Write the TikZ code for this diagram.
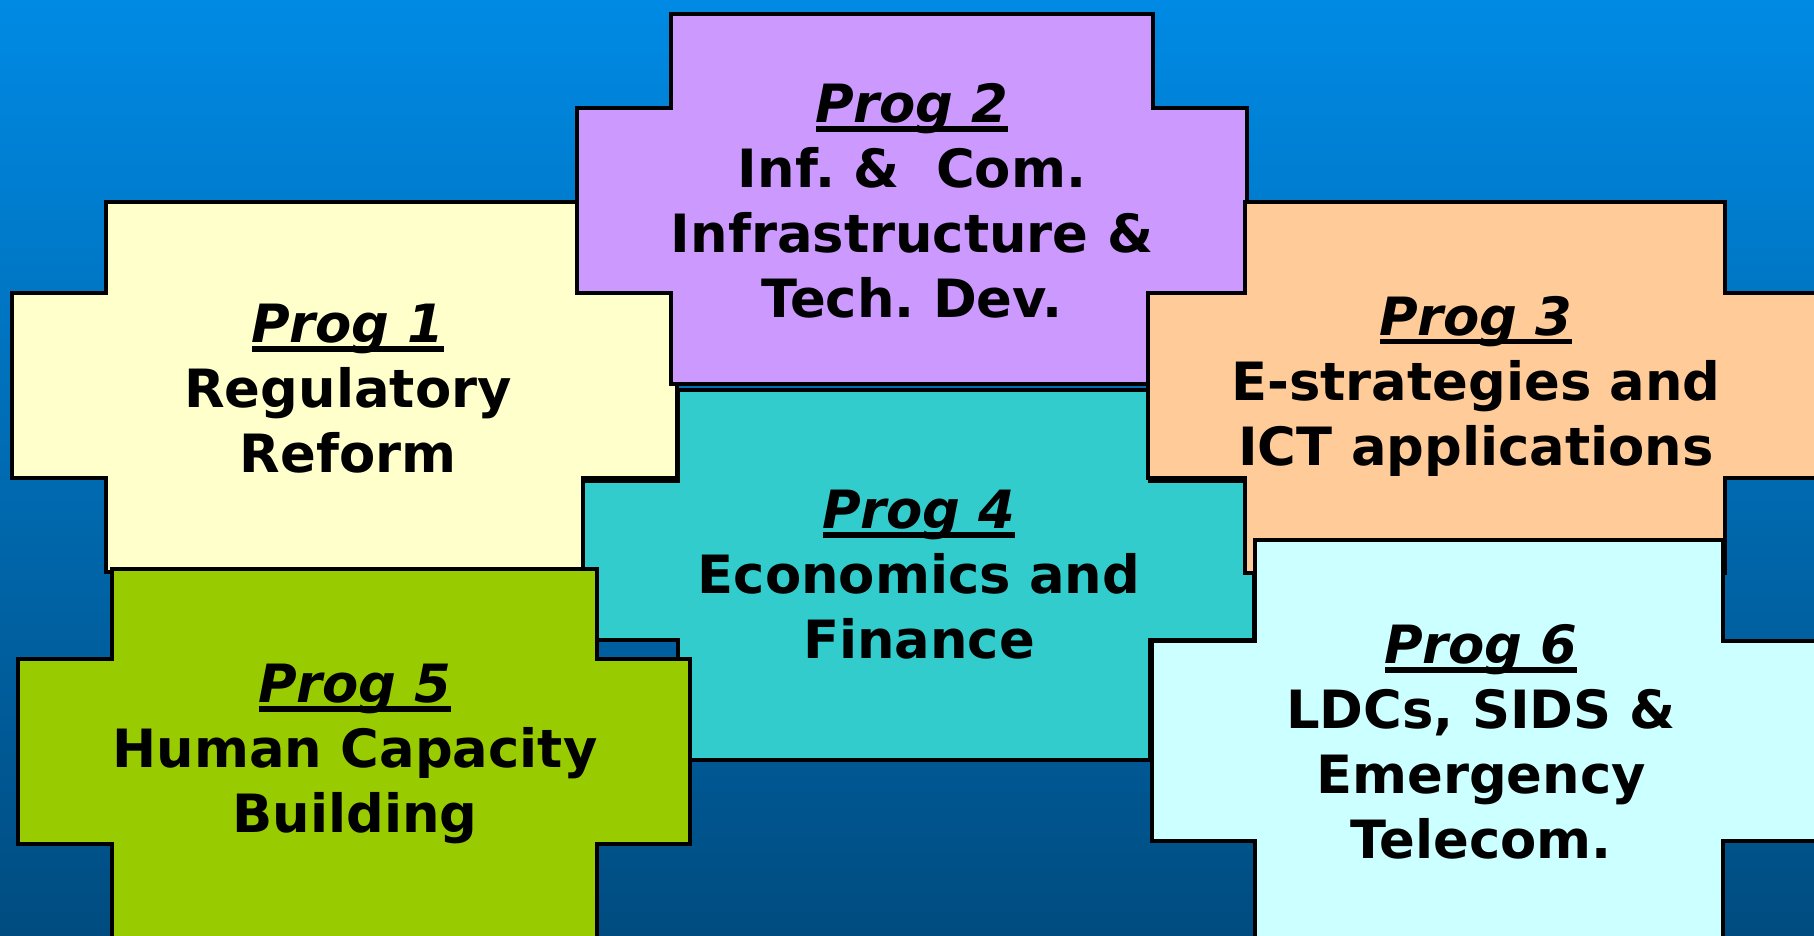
\documentclass[tikz,border=0pt]{standalone}
\usepackage{fontspec}
\setmainfont{DejaVu Sans}
\frenchspacing
\usetikzlibrary{positioning}
\definecolor{bgtop}{RGB}{0,138,228}
\definecolor{bgbottom}{RGB}{0,76,128}
\definecolor{regcream}{HTML}{FFFFCC}
\definecolor{infpurple}{HTML}{CC99FF}
\definecolor{ictpeach}{HTML}{FFCC99}
\definecolor{ecoteal}{HTML}{33CCCC}
\definecolor{hcbgreen}{HTML}{99CC00}
\definecolor{ldccyan}{HTML}{CCFFFF}
\tikzset{progbox/.style={draw=black,line width=1pt}}
\tikzset{progtext/.style={align=center,inner sep=0pt,font=\fontsize{15}{18.5}\selectfont\bfseries}}
% cross: fill, bar left/right/top/bottom, arm left/right/top/bottom
\newcommand{\progcross}[9]{%
  \draw[progbox,fill=#1] (#2,#4) -- (#3,#4) -- (#3,#8) -- (#7,#8) -- (#7,#9) -- (#3,#9)
    -- (#3,#5) -- (#2,#5) -- (#2,#9) -- (#6,#9) -- (#6,#8) -- (#2,#8) -- cycle;}
\newcommand{\progtitle}[1]{\setbox0=\hbox{\itshape Prog #1}\rlap{\copy0}\rule[-2.6pt]{\wd0}{1.6pt}}

\begin{document}
\begin{tikzpicture}[x=0.01cm,y=-0.01cm]
\useasboundingbox (0,0) rectangle (1814,935);
\clip (0,0) rectangle (1814,935);
\shade[top color=bgtop,bottom color=bgbottom] (0,0) rectangle (1814,935);

\progcross{regcream}{106}{583}{202}{572}{12}{677}{293}{478}
\progcross{infpurple}{671}{1153}{14}{384}{577}{1247}{108}{293}
\progcross{ecoteal}{678}{1150}{390}{760}{583}{1254}{481}{640}
\progcross{ictpeach}{1245}{1725}{202}{573}{1148}{1830}{293}{478}
\progcross{hcbgreen}{112}{597}{569}{960}{18}{690}{659}{844}
\progcross{ldccyan}{1255}{1723}{540}{960}{1152}{1830}{641}{841}

\node[progtext] (prog1) at (348,389) {\progtitle{1}\\Regulatory\\Reform};
\node[progtext] (prog2) at (912,201) {\progtitle{2}\\Inf. \&~~Com.\\Infrastructure \&\\Tech. Dev.};
\node[progtext] (prog3) at (1476,386) {\progtitle{3}\\E-strategies and\\ICT applications};
\node[progtext] (prog4) at (919,575) {\progtitle{4}\\Economics and\\Finance};
\node[progtext] (prog5) at (355,754) {\progtitle{5}\\Human Capacity\\Building};
\node[progtext] (prog6) at (1481,742) {\progtitle{6}\\LDCs, SIDS \&\\Emergency\\Telecom.};
\end{tikzpicture}
\end{document}
